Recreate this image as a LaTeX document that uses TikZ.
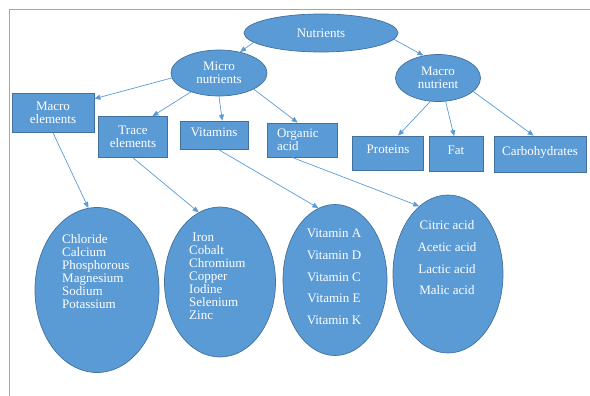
\documentclass[tikz,border=0pt]{standalone}
\usepackage{fontspec}
\setmainfont{Liberation Serif}
\usepackage{xcolor}
\usepackage{tikz}
\usetikzlibrary{arrows.meta,shapes.geometric}
\definecolor{NutriBlue}{HTML}{5B9BD5}
\definecolor{NutriEdge}{HTML}{41719C}
\definecolor{FrameGray}{HTML}{A6A6A6}

\begin{document}
\begin{tikzpicture}[
  x=1pt, y=-1pt,
  font=\fontsize{13}{13}\selectfont,
  oval/.style={ellipse,draw=NutriEdge,fill=NutriBlue,text=white,inner sep=0pt,line width=0.7pt,align=center},
  box/.style={draw=NutriEdge,fill=NutriBlue,text=white,inner sep=0pt,line width=0.7pt,align=center},
  high/.style={text height=9pt,text depth=#1},
  list/.style={text=white,inner sep=0pt,anchor=west,align=left},
  arrow/.style={-{Triangle[length=6pt,width=5pt]},draw=NutriBlue,line width=0.7pt}
]
  \useasboundingbox (0,0) rectangle (590,396);
  \draw[FrameGray,line width=1pt] (9.5,396) -- (9.5,9.5) -- (590,9.5);

  \node[oval,minimum width=154,minimum height=38] (nutr) at (321,33) {Nutrients};
  \node[oval,minimum width=96,minimum height=46] (micro) at (219,73) {Micro\\nutrients};
  \node[oval,minimum width=85,minimum height=47] (macro) at (438,78) {Macro\\nutrient};

  \node[box,minimum width=82,minimum height=39] (melem) at (53,113) {Macro\\elements};
  \node[box,minimum width=69,minimum height=41] (trace) at (133,137) {Trace\\elements};
  \node[box,high=6pt,minimum width=68,minimum height=28] (vit) at (214,135) {Vitamins};
  \node[box,minimum width=70,minimum height=34,align=left,text width=50] (org) at (302,140) {Organic\\acid};
  \node[box,high=8pt,minimum width=71,minimum height=34] (prot) at (388,153) {Proteins};
  \node[box,high=8pt,minimum width=54,minimum height=35] (fat) at (456,154) {Fat};
  \node[box,high=6pt,minimum width=92,minimum height=36] (carb) at (540,154) {Carbohydrates};

  \node[oval,minimum width=124,minimum height=165] (mlist) at (97,290) {};
  \node[oval,minimum width=111,minimum height=150] (tlist) at (220,282) {};
  \node[oval,minimum width=104,minimum height=151] (vlist) at (335,280) {};
  \node[oval,minimum width=110,minimum height=158] (alist) at (448,274) {};

  \node[list] (mtext) at (62,272) {Chloride\\Calcium\\Phosphorous\\Magnesium\\Sodium\\Potassium};
  \node[list] (ttext) at (189,276) {\ Iron\\Cobalt\\Chromium\\Copper\\Iodine\\Selenium\\Zinc};
  \node[list,anchor=center,align=center,font=\fontsize{13}{21.7}\selectfont] (vtext) at (334,277)
    {Vitamin A\\Vitamin D\\Vitamin C\\Vitamin E\\Vitamin K};
  \node[list,anchor=center,align=center,font=\fontsize{13}{21.7}\selectfont] (atext) at (447,258)
    {Citric acid\\Acetic acid\\Lactic acid\\Malic acid};

  \draw[arrow] (nutr.188) -- (micro.45);
  \draw[arrow] (nutr.-5) -- (macro.123);
  \draw[arrow] (micro.186) -- (melem.19);
  \draw[arrow] (micro.214) -- (trace.47);
  \draw[arrow] (micro.south) -- (vit.60);
  \draw[arrow] (micro.-25) -- (org.104);
  \draw[arrow] (macro.252) -- (prot.60);
  \draw[arrow] (macro.-72) -- (fat.96);
  \draw[arrow] (macro.-21) -- (carb.109);
  \draw[arrow] (melem.south) -- (mlist.96);
  \draw[arrow] (trace.south) -- (tlist.107);
  \draw[arrow] (vit.-74) -- (vlist.103);
  \draw[arrow] (org.240) -- (alist.113);
\end{tikzpicture}
\end{document}
